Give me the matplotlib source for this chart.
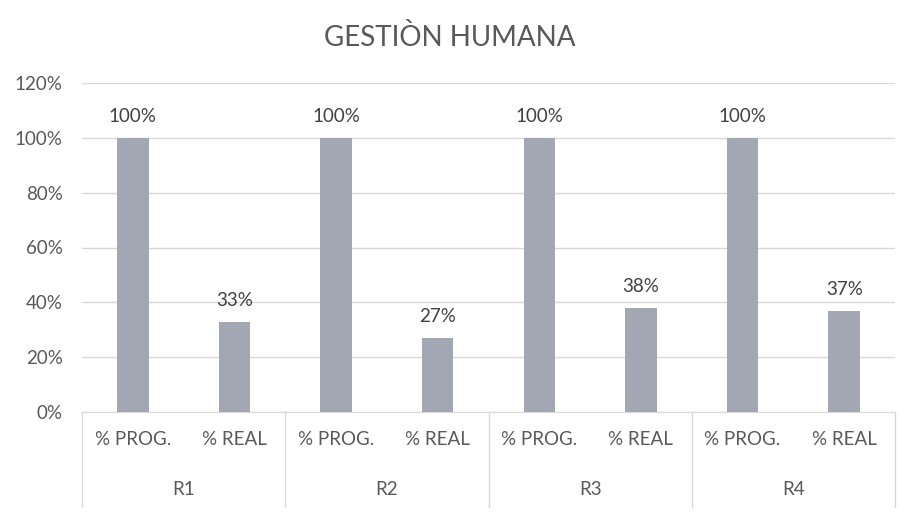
import matplotlib.pyplot as plt
from matplotlib.transforms import blended_transform_factory

# data
groups = ['R1', 'R2', 'R3', 'R4']
series = ['% PROG.', '% REAL']
prog = [1.00, 1.00, 1.00, 1.00]
real = [0.33, 0.27, 0.38, 0.37]
yticks = [0, 0.2, 0.4, 0.6, 0.8, 1.0, 1.2]

plt.rcParams['font.family'] = ['Lato', 'DejaVu Sans']
txt = '#595959'
bar_color = '#a3a6b3'

fig = plt.figure(figsize=(8.99, 5.15), dpi=100)
W, H = 899, 515
ax = fig.add_axes([82 / W, (H - 412) / H, (895 - 82) / W, (412 - 83) / H])

# interleave prog/real per group
values = []
labels = []
for p, r in zip(prog, real):
    values += [p, r]
    labels += series
xs = list(range(len(values)))

ax.bar(xs, values, width=0.31, color=bar_color, zorder=3)
for x, v in zip(xs, values):
    ax.annotate(f'{round(v * 100)}%', (x, v), xytext=(0, 9), textcoords='offset points',
                ha='center', va='bottom', fontsize=13.5, color='#404040')

ax.set_xlim(-0.5, len(values) - 0.5)
ax.set_ylim(0, 1.2)
ax.set_yticks(yticks)
ax.set_yticklabels([f'{int(round(t * 100))}%' for t in yticks], color=txt, fontsize=13.5)
ax.yaxis.grid(True, color='#d9d9d9', linewidth=1, zorder=0)
ax.tick_params(axis='y', length=0, pad=14)

ax.set_xticks(xs)
ax.set_xticklabels(labels, color=txt, fontsize=13.5)
ax.tick_params(axis='x', length=0, pad=14)

for s in ['top', 'right', 'left']:
    ax.spines[s].set_visible(False)
ax.spines['bottom'].set_color('#d9d9d9')

# group labels and separators for the two-level category axis
tr = blended_transform_factory(ax.transData, ax.transAxes)
for i, g in enumerate(groups):
    ax.text(2 * i + 0.5, -0.237, g, transform=tr, ha='center', va='center',
            fontsize=13.5, color=txt)
for b in range(len(groups) + 1):
    ax.plot([2 * b - 0.5, 2 * b - 0.5], [0, -0.29], transform=tr, color='#d9d9d9',
            linewidth=1, clip_on=False)

fig.text(0.5, (H - 38) / H, 'GESTIÒN HUMANA', ha='center', va='center',
         fontsize=20, color=txt)

fig.savefig('out.png', dpi=100)
